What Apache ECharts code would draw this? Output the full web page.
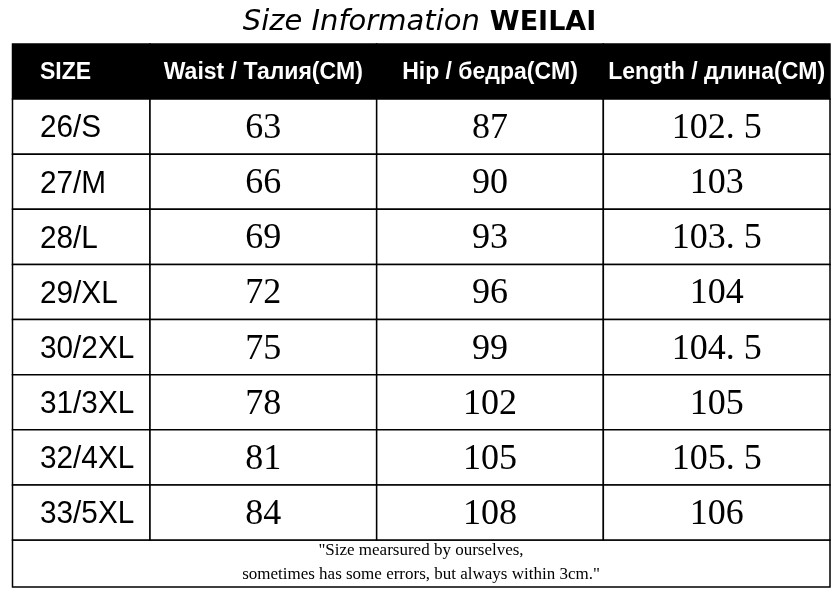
<!DOCTYPE html>
<html>
<head>
<meta charset="utf-8">
<script src="https://cdn.jsdelivr.net/npm/echarts@6/dist/echarts.min.js"></script>
<style>html,body{margin:0;padding:0;background:#fff}#c{width:839px;height:599px}</style>
</head>
<body>
<div id="c"></div>
<script>
const sizes = ['26/S','27/M','28/L','29/XL','30/2XL','31/3XL','32/4XL','33/5XL'];
const headers = ['SIZE','Waist / Талия(CM)','Hip / бедра(CM)','Length / длина(CM)'];
const waist = [63,66,69,72,75,78,81,84];
const hip = [87,90,93,96,99,102,105,108];
const lengthCm = [102.5,103,103.5,104,104.5,105,105.5,106];
const footNote = '"Size mearsured by ourselves,\nsometimes has some errors, but always within 3cm."';

const rowCats = [headers[0]].concat(sizes);
const valueCols = [waist, hip, lengthCm];

const sizeData = rowCats.map((r, i) => [0, i]);
const sizeText = rowCats.slice();
const valData = [], valText = [];
valueCols.forEach((col, c) => {
  valData.push([c, 0]); valText.push(headers[c + 1]);
  col.forEach((v, i) => {
    valData.push([c, i + 1]);
    valText.push(String(v).replace('.', '. '));
  });
});

function cellRender(texts, isSizeCol) {
  return function (params, api) {
    const x = api.value(0), y = api.value(1);
    const c = api.coord([x, y]);
    const s = api.size([1, 1]);
    const head = y === 0;
    const left = c[0] - s[0] / 2, top = c[1] - s[1] / 2;
    const txt = texts[params.dataIndex];
    let el;
    if (head) {
      el = {type: 'text', x: isSizeCol ? left + 27.5 : c[0], y: c[1] + 1,
        style: {text: txt, align: isSizeCol ? 'left' : 'center', verticalAlign: 'middle',
          fill: '#fff', font: 'bold 23px "Liberation Sans", Arial, sans-serif'}};
    } else if (isSizeCol) {
      el = {type: 'text', x: left + 27.5, y: c[1] + 2, scaleX: 0.93,
        style: {text: txt, align: 'left', verticalAlign: 'middle',
          fill: '#000', font: '32px "Liberation Sans", Arial, sans-serif'}};
    } else {
      el = {type: 'text', x: c[0], y: c[1] + 2,
        style: {text: txt, align: 'center', verticalAlign: 'middle',
          fill: '#000', font: '36px "Liberation Serif", "Times New Roman", serif'}};
    }
    el.z2 = 10;
    return {
      type: 'group',
      children: [
        {type: 'rect', shape: {x: left, y: top, width: s[0], height: s[1]},
          style: {fill: head ? '#000' : '#fff', stroke: '#000', lineWidth: 1.5}},
        el
      ]
    };
  };
}

const chart = echarts.init(document.getElementById('c'));
chart.setOption({
  animation: false,
  backgroundColor: '#fff',
  title: {
    left: 'center', top: 3,
    text: '{a|Size Information}  {b|WEILAI}',
    textStyle: {
      rich: {
        a: {fontFamily: '"DejaVu Sans", sans-serif', fontStyle: 'italic', fontWeight: 300, fontSize: 29, color: '#000'},
        b: {fontFamily: '"DejaVu Sans", sans-serif', fontWeight: 'bold', fontSize: 27, color: '#000'}
      }
    }
  },
  grid: [
    {left: 12.5, top: 44, width: 137.5, height: 496},
    {left: 150, top: 44, width: 680, height: 496}
  ],
  xAxis: [
    {type: 'category', gridIndex: 0, data: [headers[0]], show: false},
    {type: 'category', gridIndex: 1, data: headers.slice(1), show: false}
  ],
  yAxis: [
    {type: 'category', gridIndex: 0, data: rowCats, inverse: true, show: false},
    {type: 'category', gridIndex: 1, data: rowCats, inverse: true, show: false}
  ],
  series: [
    {type: 'custom', xAxisIndex: 0, yAxisIndex: 0, data: sizeData,
      renderItem: cellRender(sizeText, true)},
    {type: 'custom', xAxisIndex: 1, yAxisIndex: 1, data: valData,
      renderItem: cellRender(valText, false)}
  ],
  graphic: [
    {type: 'rect', shape: {x: 12.5, y: 540, width: 817.5, height: 47},
      style: {fill: '#fff', stroke: '#000', lineWidth: 1.5}},
    {type: 'text', x: 421, y: 563,
      style: {text: footNote, align: 'center', verticalAlign: 'middle', lineHeight: 24,
        fill: '#000', font: '17px "Liberation Serif", "Times New Roman", serif'}}
  ]
});
</script>
</body>
</html>
